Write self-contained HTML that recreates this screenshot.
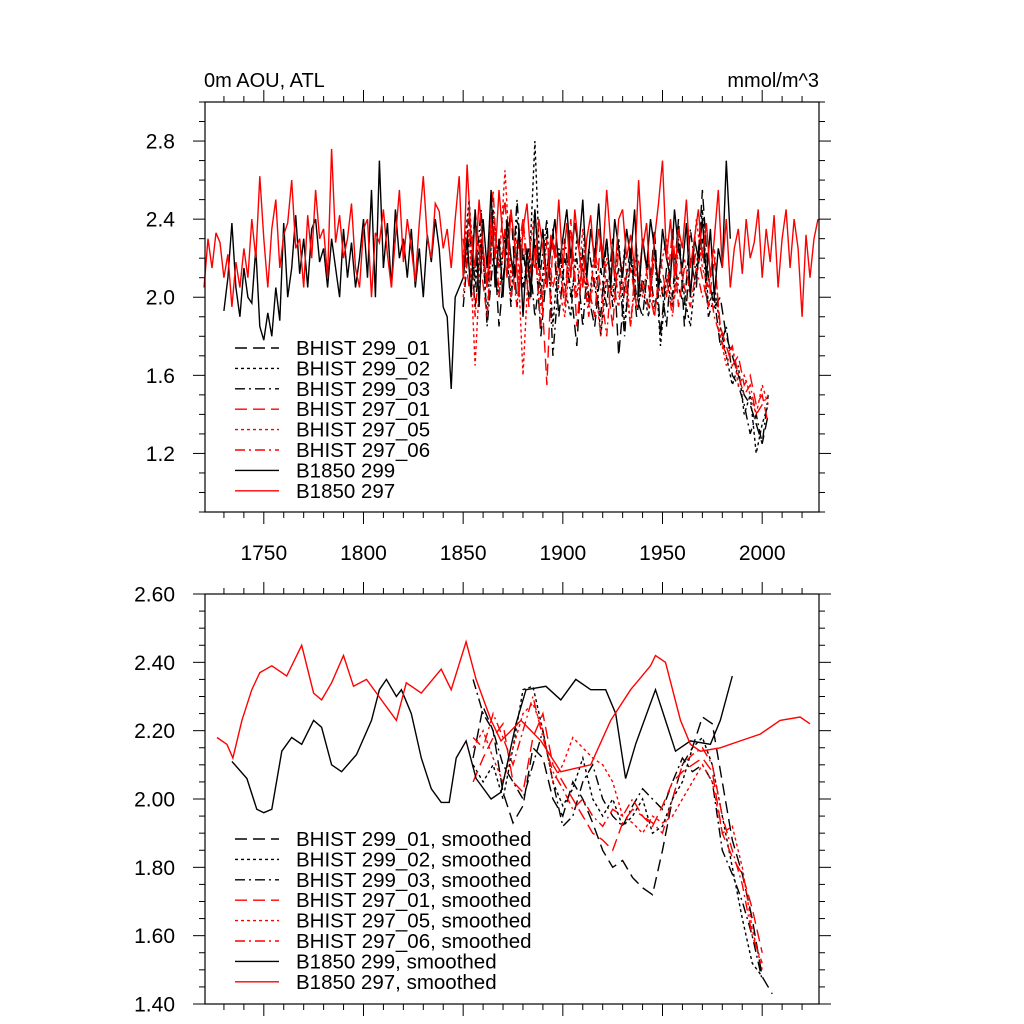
<!DOCTYPE html>
<html><head><meta charset="utf-8"><style>
html,body{margin:0;padding:0;background:#fff;}
svg{display:block;font-family:"Liberation Sans",sans-serif;}
</style></head><body>
<svg id="chart" width="1024" height="1024" viewBox="0 0 1024 1024" xmlns="http://www.w3.org/2000/svg">
<rect x="0" y="0" width="1024" height="1024" fill="#fff"/>
<text x="204" y="87" font-size="20">0m AOU, ATL</text>
<text x="819" y="87" font-size="20" text-anchor="end">mmol/m^3</text>
<g id="top"></g>
<g id="bot"></g>
</svg>
<script>
// ---------- data ----------
const xTickYears = [1750,1800,1850,1900,1950,2000];
const topYTicks = [1.2,1.6,2.0,2.4,2.8];
const topYTickLabels = ["1.2","1.6","2.0","2.4","2.8"];
const botYTicks = [1.4,1.6,1.8,2.0,2.2,2.4,2.6];
const botYTickLabels = ["1.40","1.60","1.80","2.00","2.20","2.40","2.60"];

const b297Start = 1720, b297Step = 2;
const b297 = [2.05,2.30,2.15,2.33,2.28,2.10,2.22,1.95,2.18,2.05,2.25,2.10,2.40,2.20,2.62,2.30,2.05,2.35,2.50,2.15,2.32,
2.38,2.60,2.25,2.30,2.05,2.42,2.20,2.55,2.30,2.35,2.10,2.76,2.28,2.42,2.20,2.30,2.48,2.15,2.05,2.35,
2.40,2.00,2.33,2.28,2.45,2.22,2.05,2.30,2.55,2.18,2.40,2.25,2.08,2.38,2.62,2.30,2.20,2.48,2.44,2.25,2.35,2.15,2.40,2.62,2.10,
2.68,2.30,2.15,2.50,2.25,2.05,2.40,2.20,2.55,2.30,2.10,2.45,2.25,2.00,2.35,2.48,2.20,2.15,2.40,2.25,2.05,2.32,2.20,2.50,2.15,
2.38,2.10,2.45,2.25,2.05,2.30,2.42,2.15,2.35,2.20,2.55,2.28,2.10,2.40,2.45,2.20,2.32,2.15,2.60,2.25,2.38,2.05,2.30,2.48,2.70,
2.20,2.40,2.10,2.35,2.25,2.50,2.15,2.30,2.45,2.20,2.38,2.10,2.30,2.55,2.15,2.40,2.05,2.25,2.35,2.12,2.40,2.20,2.28,2.45,2.10,
2.35,2.18,2.42,2.05,2.30,2.45,2.15,2.40,2.25,1.90,2.32,2.10,2.30,2.40];
const b299Start = 1730, b299Step = 2;
const b299 = [1.93,2.10,2.38,2.05,1.90,2.15,2.00,1.97,2.25,1.85,1.78,1.92,1.80,2.05,1.88,2.38,2.00,2.15,2.42,2.12,
2.30,2.05,2.35,2.40,2.18,2.25,2.05,2.30,2.15,2.00,2.35,2.10,2.28,2.05,2.20,2.40,2.10,2.55,2.00,2.70,
2.15,2.38,2.05,2.45,2.20,2.30,2.10,2.35,2.05,2.25,2.00,2.32,2.18,2.40,2.25,1.95,1.90,1.53,2.00,2.05,
2.10,2.30,2.00,2.45,1.95,2.40,2.15,2.55,2.05,2.30,2.00,2.40,2.20,2.10,2.35,1.90,2.25,2.00,2.45,2.15,
2.35,2.05,2.25,2.40,2.15,2.30,2.45,2.20,2.38,2.25,2.50,2.10,2.35,2.20,2.48,2.15,2.30,2.05,2.40,2.25,
2.10,2.35,2.20,2.45,2.00,2.30,2.15,2.40,2.25,2.05,2.35,2.20,2.10,2.45,2.25,2.15,2.38,2.00,2.30,2.20,
2.40,2.10,2.35,2.00,2.25,2.15,2.70,2.30];
const histStart = 1850, histStep = 3;
const h299_01 = [2.10,2.40,1.95,2.30,2.05,2.35,1.85,2.20,2.45,1.95,2.25,2.00,2.30,1.80,2.15,2.35,1.90,2.20,2.05,1.75,2.25,2.00,1.85,2.15,1.95,2.30,1.70,2.05,2.25,1.90,2.10,1.95,2.35,1.80,2.15,2.00,2.40,1.85,2.20,2.05,2.55,2.10,1.95,2.00,1.80,1.70,1.60,1.50,1.45,1.35,1.25,1.40];
const h299_02 = [2.20,2.50,2.05,2.35,1.90,2.45,2.15,2.30,2.00,2.40,2.20,2.10,2.80,2.00,2.35,1.85,2.25,2.05,1.90,2.30,2.15,1.95,2.25,1.80,2.10,2.00,2.30,1.85,2.20,1.95,2.05,1.90,2.25,1.75,2.10,1.95,2.30,2.00,1.85,2.15,2.45,1.95,2.05,1.85,1.70,1.55,1.65,1.40,1.50,1.20,1.35,1.45];
const h299_03 = [1.95,2.30,2.10,2.45,1.85,2.20,2.00,2.35,1.95,2.50,2.05,2.25,1.90,2.15,2.40,1.70,2.10,2.30,2.00,2.20,1.85,2.25,2.05,1.90,2.30,1.95,2.15,1.80,2.25,2.00,1.90,2.20,1.95,2.10,1.85,2.25,2.05,1.95,2.35,2.10,2.30,1.90,2.00,1.75,1.85,1.60,1.55,1.45,1.30,1.40,1.25,1.50];
const h297_01 = [2.30,2.05,2.45,2.15,1.90,2.35,2.25,2.50,2.00,2.20,2.40,1.95,2.25,2.10,1.55,2.30,2.15,2.00,2.40,1.85,2.20,2.05,1.90,2.30,2.10,1.85,2.25,2.00,2.15,1.95,2.30,2.05,1.90,2.20,2.00,2.35,1.95,2.15,2.05,2.25,2.10,1.95,2.20,1.85,1.75,1.65,1.70,1.55,1.60,1.45,1.50,1.35];
const h297_05 = [2.00,2.35,1.65,2.25,2.05,2.40,2.15,2.65,2.10,2.30,1.60,2.20,2.45,1.95,2.15,2.30,2.05,1.90,2.25,2.00,2.35,1.95,2.10,1.80,2.20,2.05,1.95,2.25,1.85,2.15,2.00,2.20,1.90,2.15,2.30,1.95,2.10,2.20,2.00,2.40,2.15,2.05,2.25,1.80,1.65,1.75,1.55,1.60,1.50,1.40,1.55,1.45];
const h297_06 = [2.15,2.45,1.90,2.30,2.10,2.55,2.00,2.35,2.20,1.95,2.40,2.10,2.25,1.85,2.30,2.05,2.20,1.95,2.35,2.00,2.15,1.90,2.25,2.05,1.80,2.20,2.00,2.10,1.85,2.25,2.05,1.95,2.20,2.00,2.10,1.90,2.25,2.05,1.95,2.15,2.00,2.10,1.90,1.80,1.70,1.75,1.60,1.50,1.55,1.40,1.45,1.50];

const s297Years = [1726.5,1731.5,1734.5,1739,1744,1748,1754,1761.5,1769,1775,1779,1784,1790,1795,1801.5,1809,1816.5,1821.5,1829,1839,1844,1851.5,1856.5,1864,1869,1879,1889,1899,1914,1924,1934,1944,1946.5,1951.5,1959,1964,1969,1979,1989,1999,2009,2019,2024];
const s297 = [2.18,2.16,2.12,2.23,2.32,2.37,2.39,2.36,2.45,2.31,2.29,2.34,2.42,2.33,2.35,2.29,2.23,2.34,2.31,2.38,2.32,2.46,2.35,2.23,2.17,2.23,2.17,2.08,2.10,2.23,2.32,2.39,2.42,2.40,2.23,2.16,2.14,2.15,2.17,2.19,2.23,2.24,2.22];
const s299Years = [1734,1741.5,1746.5,1750,1754,1759,1764,1769,1775,1779,1784,1789,1796.5,1804,1808,1811.5,1816.5,1819,1824,1829,1834,1839,1843,1846.5,1851.5,1856.5,1864,1869,1876.5,1881.5,1891.5,1899,1906.5,1914,1921.5,1926.5,1931.5,1936.5,1944,1946.5,1951.5,1956.5,1964,1974,1979,1985];
const s299 = [2.11,2.06,1.97,1.96,1.97,2.14,2.18,2.16,2.23,2.21,2.10,2.08,2.13,2.23,2.32,2.35,2.30,2.32,2.25,2.12,2.03,1.99,1.99,2.12,2.17,2.06,2.00,2.02,2.22,2.32,2.33,2.29,2.35,2.32,2.32,2.25,2.06,2.16,2.28,2.32,2.23,2.14,2.17,2.16,2.23,2.36];
const smStart = 1855, smStep = 5;
const s299_01 = [2.12,2.27,2.20,2.02,1.93,1.98,2.15,2.12,2.00,1.95,2.05,2.00,1.93,1.85,1.80,1.82,1.77,1.74,1.72,1.85,2.00,2.10,2.15,2.24,2.22,2.05,1.88,1.78,1.65,1.48,1.43];
const s299_02 = [2.10,2.05,2.10,2.00,2.15,2.32,2.33,2.20,2.05,1.98,2.03,2.12,2.00,1.95,2.00,1.92,1.95,2.00,1.90,1.92,2.00,2.05,2.15,2.18,2.10,1.95,1.80,1.65,1.52,1.48];
const s299_03 = [2.35,2.25,2.20,2.10,2.05,2.00,2.10,2.20,2.05,1.92,1.95,2.05,2.10,2.00,1.95,1.92,1.98,2.03,2.00,1.97,2.05,2.12,2.08,2.10,2.05,1.85,1.78,1.70,1.60,1.47];
const s297_01 = [2.05,2.12,2.18,2.22,2.05,2.02,2.18,2.25,2.10,2.05,2.00,1.95,1.90,1.88,1.85,1.93,1.97,1.95,1.92,1.98,2.05,2.08,2.10,2.12,2.08,1.90,1.83,1.78,1.68,1.55];
const s297_05 = [2.15,2.20,2.12,2.05,2.15,2.25,2.28,2.20,2.05,2.10,2.18,2.15,2.12,2.10,2.05,1.95,1.93,1.90,1.95,1.93,1.95,2.00,2.05,2.10,2.05,1.90,1.92,1.80,1.62,1.50];
const s297_06 = [2.18,2.15,2.25,2.18,2.10,2.20,2.30,2.18,2.08,2.03,1.97,2.00,1.95,1.92,1.97,1.95,2.00,1.95,1.93,1.90,2.00,2.10,2.13,2.15,2.10,1.95,1.85,1.75,1.60,1.52];

const legendTop = ["BHIST 299_01","BHIST 299_02","BHIST 299_03","BHIST 297_01","BHIST 297_05","BHIST 297_06","B1850 299","B1850 297"];
const legendBot = legendTop.map(s=>s+", smoothed");

// ---------- drawing ----------
const NS="http://www.w3.org/2000/svg";
const L=205, R=819;
const xMin=1720.5, xMax=2028.5;
function sx(y){return L+(y-xMin)/(xMax-xMin)*(R-L);}
function mk(tag,attrs,parent){const e=document.createElementNS(NS,tag);for(const k in attrs)e.setAttribute(k,attrs[k]);parent.appendChild(e);return e;}
const styles=[
 {c:"#000",d:"12,6"},{c:"#000",d:"3,3"},{c:"#000",d:"10,4,2,4"},
 {c:"#f00",d:"12,6"},{c:"#f00",d:"3,3"},{c:"#f00",d:"10,4,2,4"},
 {c:"#000",d:""},{c:"#f00",d:""}];
const seriesNames=["bhist-299-01","bhist-299-02","bhist-299-03","bhist-297-01","bhist-297-05","bhist-297-06","b1850-299","b1850-297"];

function panel(g,T,B,yMin,yMax,yTicks,yLabels,minorStep,showX,series,legend,legY0){
  const sy=v=>B-(v-yMin)/(yMax-yMin)*(B-T);
  series.forEach((s,i)=>{
    const pts=s.vals.map((v,k)=>sx(s.years[k]).toFixed(1)+","+sy(v).toFixed(1)).join(" ");
    const p=mk("polyline",{points:pts,fill:"none",stroke:styles[i].c,"stroke-width":"1.4","stroke-dasharray":styles[i].d||"none"},g);
    
    
  });
  const fr=mk("rect",{x:L,y:T,width:R-L,height:B-T,fill:"none",stroke:"#000","stroke-width":"1.2"},g);
  
  
  for(let yr=1730;yr<=2020;yr+=10){
    const x=sx(yr), maj=yr%50===0, len=maj?12:6;
    mk("line",{x1:x,x2:x,y1:B,y2:B+len,stroke:"#000","stroke-width":"1"},g);
    mk("line",{x1:x,x2:x,y1:T,y2:T-len,stroke:"#000","stroke-width":"1"},g);
  }
  if(showX){xTickYears.forEach(yr=>{
    const t=mk("text",{x:sx(yr),y:B+48,"font-size":"21","text-anchor":"middle"},g);
    t.textContent=yr;
    
    
  });}
  const n=Math.round((yMax-yMin)/minorStep);
  for(let k=0;k<=n;k++){
    const v=yMin+k*minorStep; const y=sy(v);
    if(y<T-0.5||y>B+0.5)continue;
    const maj=yTicks.some(t=>Math.abs(t-v)<1e-6), len=maj?12:6;
    mk("line",{x1:L,x2:L-len,y1:y,y2:y,stroke:"#000","stroke-width":"1"},g);
    mk("line",{x1:R,x2:R+len,y1:y,y2:y,stroke:"#000","stroke-width":"1"},g);
  }
  yTicks.forEach((v,i)=>{
    const t=mk("text",{x:175,y:sy(v)+7.5,"font-size":"21","text-anchor":"end"},g);
    t.textContent=yLabels[i];
    
    
  });
  legend.forEach((lab,i)=>{
    const y=legY0+i*20.4;
    const ln=mk("line",{x1:235,x2:279,y1:y,y2:y,stroke:styles[i].c,"stroke-width":"1.4","stroke-dasharray":styles[i].d||"none"},g);
    
    
    const t=mk("text",{x:296,y:y+7,"font-size":"20.5"},g);
    t.textContent=lab;
    
    
  });
}
function yrs(start,step,arr){return arr.map((_,k)=>start+k*step);}
const hist=[h299_01,h299_02,h299_03,h297_01,h297_05,h297_06];
const topSeries=hist.map(a=>({years:yrs(histStart,histStep,a),vals:a}));
topSeries.push({years:yrs(b299Start,b299Step,b299),vals:b299});
topSeries.push({years:yrs(b297Start,b297Step,b297),vals:b297});
panel(document.getElementById("top"),102,512,0.9,3.0,topYTicks,topYTickLabels,0.1,true,topSeries,legendTop,348);

const sm=[s299_01,s299_02,s299_03,s297_01,s297_05,s297_06];
const botSeries=sm.map(a=>({years:yrs(smStart,smStep,a),vals:a}));
botSeries.push({years:s299Years,vals:s299});
botSeries.push({years:s297Years,vals:s297});
panel(document.getElementById("bot"),594,1004,1.4,2.6,botYTicks,botYTickLabels,0.05,false,botSeries,legendBot,839);
</script>
</body></html>
